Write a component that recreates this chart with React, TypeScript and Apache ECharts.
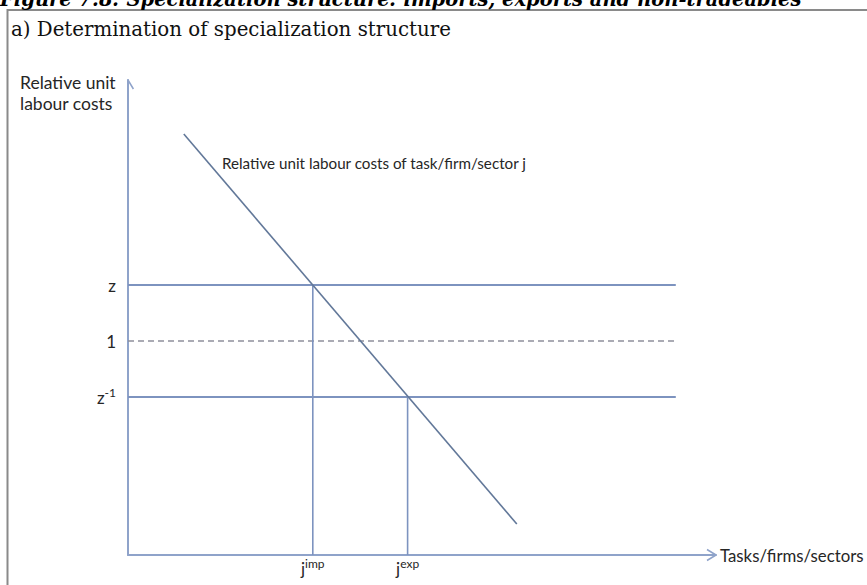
import React, { useEffect, useRef } from "react";
import * as echarts from "echarts";

// Schematic coordinates (x: tasks/firms/sectors, y: relative unit labour costs)
const xMax = 98;
const yMax = 95;
const levelNames = ["z", "1", "z-1"];
const levelValues = [54, 42.8, 31.6];
const levelEndX = 91.3;
const costCurveX = [9.3, 64.8];
const costCurveY = [84.2, 6.2];
const jNames = ["imp", "exp"];
const jValues = [30.8, 46.6];
const jTops = [54, 31.6];

const LINE = "#7d93bf";
const AXIS = "#8fa3ca";
const TXT = "#262626";
const SANS = "Lato, 'Open Sans', sans-serif";

export default function App() {
  const ref = useRef<HTMLDivElement>(null);
  useEffect(() => {
    if (!ref.current) return;
    const chart = echarts.init(ref.current, undefined, { renderer: "svg" });

    const levelSeries = levelValues.map((v, i) => ({
      type: "line",
      name: levelNames[i],
      data: [
        [0, v],
        [levelEndX, v],
      ],
      symbol: "none",
      silent: true,
      clip: false,
      lineStyle: {
        color: i === 1 ? "#8e909c" : LINE,
        width: i === 1 ? 1.3 : 1.8,
        type: i === 1 ? [6, 4] : "solid",
      },
    }));

    const jSeries = jValues.map((x, i) => ({
      type: "line",
      name: "j" + jNames[i],
      data: [
        [x, 0],
        [x, jTops[i]],
      ],
      symbol: "none",
      silent: true,
      clip: false,
      lineStyle: { color: LINE, width: 1.6 },
    }));

    const arrowSeries = [
      {
        type: "line",
        data: [
          [xMax - 1.5, 1.1],
          [xMax, 0],
          [xMax - 1.5, -1.1],
        ],
      },
      {
        type: "line",
        data: [
          [-0.9, yMax - 1.8],
          [0, yMax],
          [0.9, yMax - 1.8],
        ],
      },
    ].map((s) => ({
      ...s,
      symbol: "none",
      silent: true,
      clip: false,
      lineStyle: { color: AXIS, width: 1.5 },
    }));

    const labelRich = {
      m: { fontSize: 17, lineHeight: 22, color: TXT, fontFamily: SANS },
      s: {
        fontSize: 12,
        lineHeight: 14,
        verticalAlign: "top",
        color: TXT,
        fontFamily: SANS,
      },
    };

    chart.setOption({
      animation: false,
      grid: {
        left: 128,
        right: 867 - 716,
        top: 80,
        bottom: 30,
        outerBoundsMode: "none",
      },
      xAxis: {
        type: "value",
        min: 0,
        max: xMax,
        splitLine: { show: false },
        axisTick: { show: false },
        axisLine: { show: true, lineStyle: { color: AXIS, width: 2 } },
        axisLabel: {
          customValues: jValues,
          margin: 2,
          formatter: (v: number) => {
            const i = jValues.indexOf(v);
            return i < 0 ? "" : "{m|j}{s|" + jNames[i] + "}";
          },
          rich: labelRich,
        },
      },
      yAxis: {
        type: "value",
        min: 0,
        max: yMax,
        splitLine: { show: false },
        axisTick: { show: false },
        axisLine: { show: true, lineStyle: { color: AXIS, width: 2 } },
        axisLabel: {
          customValues: levelValues,
          margin: 12,
          formatter: (v: number) => {
            const i = levelValues.indexOf(v);
            if (i < 0) return "";
            const n = levelNames[i];
            return n === "z-1" ? "{m|z}{s|-1}" : "{m|" + n + "}";
          },
          rich: labelRich,
        },
      },
      graphic: [
        {
          type: "rect",
          shape: { x: 7.5, y: 10, width: 900, height: 600 },
          style: { fill: "none", stroke: "#8a8a8a", lineWidth: 2 },
          silent: true,
        },
        {
          type: "text",
          x: 0,
          y: 9,
          style: {
            text: "Figure 7.8: Specialization structure: imports, exports and non-tradeables",
            font: "italic bold 19.5px 'DejaVu Serif', serif",
            fill: "#000",
            verticalAlign: "bottom",
          },
        },
        {
          type: "text",
          x: 11,
          y: 29,
          style: {
            text: "a) Determination of specialization structure",
            font: "19.8px 'DejaVu Serif', serif",
            fill: "#111",
            verticalAlign: "middle",
          },
        },
        {
          type: "text",
          x: 20,
          y: 92.5,
          style: {
            text: "Relative unit\nlabour costs",
            font: "17.5px " + SANS,
            lineHeight: 21,
            fill: TXT,
            verticalAlign: "middle",
          },
        },
        {
          type: "text",
          x: 720,
          y: 555,
          style: {
            text: "Tasks/firms/sectors",
            font: "16.8px " + SANS,
            fill: TXT,
            verticalAlign: "middle",
          },
        },
        {
          type: "text",
          x: 222,
          y: 163,
          style: {
            text: "Relative unit labour costs of task/firm/sector j",
            font: "15.2px " + SANS,
            fill: TXT,
            verticalAlign: "middle",
          },
        },
      ],
      series: [
        ...levelSeries,
        ...jSeries,
        {
          type: "line",
          name: "Relative unit labour costs of task/firm/sector j",
          data: costCurveX.map((x, i) => [x, costCurveY[i]]),
          symbol: "none",
          silent: true,
          clip: false,
          lineStyle: { color: "#627899", width: 1.6 },
        },
        ...arrowSeries,
      ],
    });
    return () => chart.dispose();
  }, []);
  return (
    <div
      ref={ref}
      style={{ position: "absolute", left: 0, top: 0, width: 867, height: 585, background: "#fff" }}
    />
  );
}
